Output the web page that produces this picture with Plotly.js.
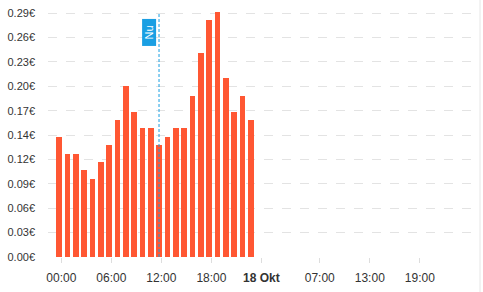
<!DOCTYPE html>
<html>
<head>
<meta charset="utf-8">
<script src="https://cdn.plot.ly/plotly-3.0.1.min.js"></script>
<style>html,body{margin:0;padding:0;background:#fff;}#chart{width:483px;height:292px;}</style>
</head>
<body>
<div id="chart"></div>
<script>
// Data
const day = '2024-10-17';
const hours = ['00:00','01:00','02:00','03:00','04:00','05:00','06:00','07:00','08:00','09:00','10:00','11:00',
               '12:00','13:00','14:00','15:00','16:00','17:00','18:00','19:00','20:00','21:00','22:00','23:00'];
const prices = [0.143,0.123,0.123,0.103,0.093,0.113,0.133,0.163,0.203,0.172,0.153,0.153,
                0.133,0.143,0.153,0.153,0.192,0.243,0.282,0.292,0.213,0.172,0.192,0.163];
const nowTime = '2024-10-17 11:43';
const nowLabel = 'Nu';
const xTickVals = ['2024-10-17 00:00','2024-10-17 06:00','2024-10-17 12:00','2024-10-17 18:00',
                   '2024-10-18 00:00','2024-10-18 07:00','2024-10-18 13:00','2024-10-18 19:00'];
const xTickText = ['00:00','06:00','12:00','18:00','<b>18 Okt</b>','07:00','13:00','19:00'];
const yTickText = ['0.00€','0.03€','0.06€','0.09€','0.12€','0.14€','0.17€','0.20€','0.23€','0.26€','0.29€'];
const yStep = 0.029;

const H = 3600000;
const xs = hours.map(h => day + ' ' + h);

const trace = {
  type: 'bar',
  x: xs,
  y: prices,
  width: 0.7 * H,
  offset: -0.62 * H,
  marker: {color: '#FF5733', line: {width: 0}},
  hoverinfo: 'skip'
};

const layout = {
  width: 483, height: 292,
  margin: {l: 48, r: 9, t: 8.5, b: 35, pad: 0},
  paper_bgcolor: '#fff', plot_bgcolor: '#fff',
  font: {family: 'Liberation Sans, Arial, sans-serif', size: 11, color: '#333'},
  showlegend: false,
  bargap: 0,
  xaxis: {
    type: 'date',
    range: ['2024-10-16 22:24', '2024-10-19 01:30'],
    tickvals: xTickVals, ticktext: xTickText,
    tickfont: {size: 12, color: '#333'},
    showgrid: false, zeroline: false, showline: false,
    ticks: 'outside', ticklen: 5, tickcolor: '#dddddd', tickwidth: 1,
    ticklabelstandoff: 5,
    fixedrange: true
  },
  yaxis: {
    range: [0, 0.295],
    tickvals: yTickText.map((_, i) => i * yStep),
    ticktext: yTickText,
    tickfont: {size: 11, color: '#333'},
    showgrid: true, gridcolor: '#e3e3e3', griddash: 'dash', gridwidth: 1,
    zeroline: false, showline: false, ticks: '',
    ticklabelstandoff: 12,
    fixedrange: true
  },
  shapes: [
    {type: 'line', xref: 'x', yref: 'y', x0: nowTime, x1: nowTime, y0: 0, y1: 0.29,
     line: {color: '#1a9fe3', width: 1, dash: '3px,2px'}},
    {type: 'line', xref: 'paper', yref: 'paper', x0: 1.0141, x1: 1.0141, y0: -0.2, y1: 1.05,
     line: {color: '#e6e6e6', width: 1}}
  ],
  annotations: [
    {xref: 'x', yref: 'paper', x: nowTime, y: 0.96, xanchor: 'right', yanchor: 'top',
     text: nowLabel, textangle: -90, showarrow: false, xshift: -2,
     width: 24, height: 11,
     font: {size: 11, color: '#fff'}, bgcolor: '#1a9fe3', borderpad: 1}
  ]
};

Plotly.newPlot('chart', [trace], layout, {staticPlot: true, displayModeBar: false});
</script>
</body>
</html>
